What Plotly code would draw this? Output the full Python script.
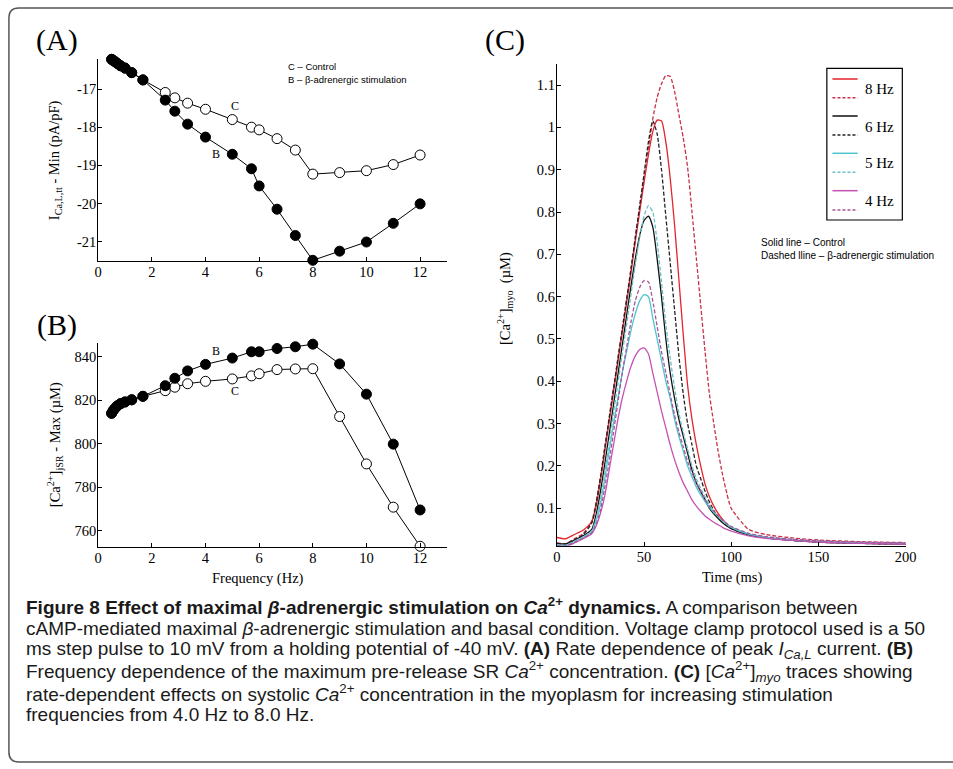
import plotly.graph_objects as go

W, H = 953, 769

# ---------------- data ----------------
freq = [0.5, 0.556, 0.625, 0.714, 0.833, 1.0, 1.25, 1.667, 2.5, 2.857, 3.333, 4.0,
        5.0, 5.714, 6.0, 6.667, 7.35, 8.0, 9.0, 10.0, 11.0, 12.0]

ical_control = [-16.22, -16.25, -16.28, -16.33, -16.39, -16.45, -16.57, -16.76, -17.09, -17.23,
                -17.37, -17.53, -17.80, -18.00, -18.07, -18.30, -18.60, -19.23, -19.19, -19.14,
                -18.98, -18.73]
ical_beta = [-16.22, -16.25, -16.28, -16.33, -16.39, -16.45, -16.57, -16.76, -17.29, -17.58,
             -17.92, -18.26, -18.71, -19.09, -19.54, -20.15, -20.84, -21.49, -21.25, -21.01,
             -20.52, -20.01]

jsr_control = [814.0, 815.2, 816.3, 817.4, 818.4, 819.2, 820.2, 821.8, 824.4, 826.0, 827.6, 828.7,
               829.8, 831.2, 832.2, 834.1, 834.4, 834.5, 812.5, 790.7, 770.8, 752.8]
jsr_beta = [814.0, 815.2, 816.3, 817.4, 818.4, 819.2, 820.2, 821.8, 826.7, 830.1, 833.5, 836.5,
            839.4, 842.3, 842.3, 843.8, 844.6, 845.8, 836.7, 822.8, 799.8, 769.5]

time_ms = [0, 5, 10, 15, 20, 22.5, 25, 27.5, 30, 32.5, 35, 37.5, 40, 42.5, 45, 47.5, 50, 52.5,
           55, 57.5, 60, 62.5, 65, 67.5, 70, 72.5, 75, 77.5, 80, 82.5, 85, 87.5, 90, 92.5, 95,
           97.5, 100, 110, 120, 135, 150, 175, 200]

ca_8hz_control = [0.031, 0.028, 0.038, 0.048, 0.068, 0.105, 0.165, 0.235, 0.305, 0.375, 0.445,
                  0.515, 0.585, 0.655, 0.73, 0.80, 0.87, 0.935, 0.99, 1.017, 1.015, 0.965, 0.88,
                  0.77, 0.64, 0.51, 0.39, 0.31, 0.25, 0.2, 0.157, 0.127, 0.105, 0.088, 0.074,
                  0.063, 0.055, 0.038, 0.031, 0.025, 0.021, 0.018, 0.016]
ca_8hz_beta = [0.018, 0.016, 0.028, 0.04, 0.07, 0.115, 0.175, 0.245, 0.315, 0.385, 0.455, 0.525,
               0.595, 0.665, 0.74, 0.81, 0.88, 0.95, 1.02, 1.07, 1.103, 1.122, 1.12, 1.085, 1.03,
               0.975, 0.905, 0.80, 0.69, 0.58, 0.47, 0.37, 0.3, 0.235, 0.18, 0.135, 0.1, 0.05,
               0.038, 0.03, 0.025, 0.021, 0.019]
ca_6hz_control = [0.017, 0.016, 0.025, 0.035, 0.05, 0.085, 0.14, 0.205, 0.275, 0.345, 0.415,
                  0.485, 0.555, 0.625, 0.69, 0.745, 0.78, 0.79, 0.765, 0.69, 0.6, 0.5, 0.42, 0.36,
                  0.31, 0.27, 0.23, 0.19, 0.16, 0.14, 0.12, 0.1, 0.087, 0.076, 0.066, 0.058,
                  0.052, 0.037, 0.03, 0.024, 0.02, 0.017, 0.015]
ca_6hz_beta = [0.016, 0.015, 0.025, 0.037, 0.065, 0.11, 0.172, 0.242, 0.312, 0.382, 0.452, 0.522,
               0.592, 0.665, 0.74, 0.815, 0.89, 0.965, 1.015, 0.985, 0.9, 0.79, 0.68, 0.57, 0.46,
               0.37, 0.3, 0.25, 0.2, 0.17, 0.14, 0.115, 0.095, 0.08, 0.068, 0.059, 0.052, 0.037,
               0.03, 0.024, 0.02, 0.017, 0.015]
ca_5hz_control = [0.013, 0.012, 0.021, 0.031, 0.045, 0.07, 0.11, 0.17, 0.235, 0.3, 0.36, 0.42,
                  0.47, 0.52, 0.56, 0.59, 0.605, 0.6, 0.55, 0.5, 0.45, 0.4, 0.36, 0.31, 0.27,
                  0.235, 0.2, 0.175, 0.15, 0.132, 0.116, 0.102, 0.09, 0.08, 0.07, 0.062, 0.055,
                  0.039, 0.031, 0.025, 0.021, 0.018, 0.016]
ca_5hz_beta = [0.014, 0.013, 0.022, 0.032, 0.047, 0.075, 0.12, 0.185, 0.255, 0.325, 0.395, 0.465,
               0.535, 0.605, 0.675, 0.74, 0.79, 0.815, 0.8, 0.73, 0.635, 0.535, 0.455, 0.385,
               0.325, 0.28, 0.24, 0.2, 0.17, 0.147, 0.127, 0.108, 0.093, 0.081, 0.071, 0.063,
               0.056, 0.04, 0.032, 0.026, 0.022, 0.019, 0.017]
ca_4hz_control = [0.011, 0.01, 0.018, 0.028, 0.04, 0.058, 0.088, 0.13, 0.19, 0.25, 0.31, 0.36,
                  0.40, 0.435, 0.46, 0.475, 0.479, 0.465, 0.42, 0.375, 0.33, 0.29, 0.25, 0.215,
                  0.185, 0.16, 0.14, 0.12, 0.105, 0.093, 0.082, 0.074, 0.067, 0.061, 0.055, 0.05,
                  0.046, 0.035, 0.029, 0.024, 0.02, 0.017, 0.015]
ca_4hz_beta = [0.012, 0.011, 0.019, 0.029, 0.042, 0.062, 0.095, 0.15, 0.21, 0.28, 0.35, 0.42,
               0.48, 0.54, 0.59, 0.622, 0.638, 0.635, 0.59, 0.53, 0.47, 0.42, 0.37, 0.32, 0.28,
               0.245, 0.21, 0.185, 0.16, 0.14, 0.12, 0.105, 0.093, 0.082, 0.072, 0.064, 0.057,
               0.041, 0.033, 0.027, 0.023, 0.02, 0.018]

freq_ticks = [0, 2, 4, 6, 8, 10, 12]
ical_ticks = [-21, -20, -19, -18, -17]
ical_ticktext = ["-21", "-20", "-19", "-18", "-17"]
jsr_ticks = [760, 780, 800, 820, 840]
ca_ticks = [0.1, 0.2, 0.3, 0.4, 0.5, 0.6, 0.7, 0.8, 0.9, 1.0, 1.1]
ca_ticktext = ["0.1", "0.2", "0.3", "0.4", "0.5", "0.6", "0.7", "0.8", "0.9", "1", "1.1"]
time_ticks = [0, 50, 100, 150, 200]

hz_labels = ["8 Hz", "6 Hz", "5 Hz", "4 Hz"]
c_series = [
    (ca_8hz_control, "#e3242b", "solid"), (ca_8hz_beta, "#c8304a", "dash"),
    (ca_6hz_control, "#111111", "solid"), (ca_6hz_beta, "#222222", "dash"),
    (ca_5hz_control, "#4cc5cf", "solid"), (ca_5hz_beta, "#6cbfc6", "dash"),
    (ca_4hz_control, "#c452b4", "solid"), (ca_4hz_beta, "#a4559c", "dash"),
]

# ---------------- helpers ----------------
def fx(px):
    return px / W

def fy(py):
    return 1 - py / H

SERIF = "Liberation Serif, Times New Roman, serif"
SANS = "Liberation Sans, Arial, sans-serif"

fig = go.Figure()

# Panel A
fig.add_trace(go.Scatter(x=freq, y=ical_control, mode="lines+markers", xaxis="x", yaxis="y",
                         line=dict(color="black", width=1),
                         marker=dict(symbol="circle", size=10, color="white",
                                     line=dict(color="black", width=1)), cliponaxis=False))
fig.add_trace(go.Scatter(x=freq, y=ical_beta, mode="lines+markers", xaxis="x", yaxis="y",
                         line=dict(color="black", width=1),
                         marker=dict(symbol="circle", size=10, color="black",
                                     line=dict(color="black", width=1)), cliponaxis=False))
# Panel B
fig.add_trace(go.Scatter(x=freq, y=jsr_control, mode="lines+markers", xaxis="x2", yaxis="y2",
                         line=dict(color="black", width=1),
                         marker=dict(symbol="circle", size=10, color="white",
                                     line=dict(color="black", width=1)), cliponaxis=False))
fig.add_trace(go.Scatter(x=freq, y=jsr_beta, mode="lines+markers", xaxis="x2", yaxis="y2",
                         line=dict(color="black", width=1),
                         marker=dict(symbol="circle", size=10, color="black",
                                     line=dict(color="black", width=1)), cliponaxis=False))
# Panel C
for vals, col, dash in c_series:
    fig.add_trace(go.Scatter(x=time_ms, y=vals, mode="lines", xaxis="x3", yaxis="y3",
                             line=dict(color=col, width=1.3,
                                       dash=("4px,2px" if dash == "dash" else "solid"),
                                       shape="spline", smoothing=0.6)))

axis_common = dict(showline=True, linecolor="black", linewidth=1, ticks="inside", ticklen=4,
                   tickcolor="black", showgrid=False, zeroline=False, mirror=False,
                   tickfont=dict(family=SERIF, size=14.5, color="black"))
xstand = dict(ticklabelstandoff=-2)
ystand = dict(ticklabelstandoff=-2)

fig.update_layout(
    width=W, height=H, margin=dict(l=0, r=0, t=0, b=0),
    paper_bgcolor="white", plot_bgcolor="white", showlegend=False,
    xaxis=dict(domain=[fx(95.7), fx(450)], range=[0, 13], tickvals=freq_ticks,
               anchor="y", **axis_common, **xstand),
    yaxis=dict(domain=[fy(260.7), fy(59.3)], range=[-21.5, -16.22], tickvals=ical_ticks,
               ticktext=ical_ticktext, anchor="x", **axis_common, **ystand),
    xaxis2=dict(domain=[fx(95.7), fx(450)], range=[0, 13], tickvals=freq_ticks,
                anchor="y2", **axis_common, **xstand),
    yaxis2=dict(domain=[fy(546.7), fy(343.3)], range=[752.6, 846.2], tickvals=jsr_ticks,
                anchor="x2", **axis_common, **ystand),
    xaxis3=dict(domain=[fx(561.7), fx(916)], range=[0, 200], tickvals=time_ticks,
                anchor="y3", **axis_common, **xstand),
    yaxis3=dict(domain=[fy(545.7), fy(64.3)], range=[0.0116, 1.149], tickvals=ca_ticks,
                ticktext=ca_ticktext, anchor="x3", **axis_common, **ystand),
)

ann = []
def text(px, py, s, size=14, family=SERIF, xanchor="center", yanchor="middle", angle=0, color="black"):
    ann.append(dict(x=fx(px), y=fy(py), xref="paper", yref="paper", text=s, showarrow=False,
                    xanchor=xanchor, yanchor=yanchor, textangle=angle,
                    font=dict(family=family, size=size, color=color)))

# panel labels
text(54, 40, "(A)", size=30)
text(54, 325, "(B)", size=30)
text(509, 40, "(C)", size=30)

# axis titles
text(52, 160, "I<sub>Ca,L,tt</sub> - Min (pA/pF)", size=14.5, angle=-90)
text(52, 445, "[Ca<sup>2+</sup>]<sub>jSR</sub> - Max (µM)", size=14.5, angle=-90)
text(258, 578, "Frequency (Hz)", size=14.5)
text(509, 298, "[Ca<sup>2+</sup>]<sub>myo</sub>  (µM)", size=14.5, angle=-90)
text(740, 577, "Time (ms)", size=14.5)

# curve labels
text(235, 105.5, "C", size=12)
text(215, 154.5, "B", size=12)
text(215, 350.5, "B", size=12)
text(235, 390.5, "C", size=12)

# panel A note
text(286.5, 66.5, "C – Control", size=9.5, family=SANS, xanchor="left")
text(286.5, 79.5, "B – β-adrenergic stimulation", size=9.5, family=SANS, xanchor="left")

# panel C note
text(767, 242.5, "Solid line – Control", size=10, family=SANS, xanchor="left")
text(767, 255, "Dashed lline – β-adrenergic stimulation", size=10, family=SANS, xanchor="left")

# legend for C
shapes = []
shapes.append(dict(type="rect", xref="paper", yref="paper", x0=fx(836), x1=fx(912.7),
                   y0=fy(220), y1=fy(68.3), line=dict(color="black", width=1.2)))
leg_y = [(79, 97.7), (116, 135), (153.3, 172.3), (190.7, 210)]
lab_y = [89, 127, 163, 201.5]
for i, lab in enumerate(hz_labels):
    sol = c_series[2 * i]
    dsh = c_series[2 * i + 1]
    shapes.append(dict(type="line", xref="paper", yref="paper", x0=fx(841.7), x1=fx(867.3),
                       y0=fy(leg_y[i][0]), y1=fy(leg_y[i][0]),
                       line=dict(color=sol[1], width=1.5)))
    shapes.append(dict(type="line", xref="paper", yref="paper", x0=fx(841.7), x1=fx(867.3),
                       y0=fy(leg_y[i][1]), y1=fy(leg_y[i][1]),
                       line=dict(color=dsh[1], width=1.5, dash="3px,2px")))
    text(873, lab_y[i], lab, size=15, xanchor="left")

# outer rounded frame
r = 10
x0, y0, x1, y1 = 5, 8, 965, 762
def P(px, py):
    return f"{fx(px)},{fy(py)}"
path = (f"M {P(x0+r,y0)} L {P(x1,y0)} L {P(x1,y1)} L {P(x0+r,y1)} "
        f"Q {P(x0,y1)} {P(x0,y1-r)} L {P(x0,y0+r)} Q {P(x0,y0)} {P(x0+r,y0)} Z")
shapes.append(dict(type="path", xref="paper", yref="paper", path=path,
                   line=dict(color="#555555", width=1.5), fillcolor="rgba(0,0,0,0)"))

# caption
CAP = "Liberation Sans, Arial, sans-serif"
cap_lines = [
    "<b>Figure 8 Effect of maximal <i>β</i>-adrenergic stimulation on <i>Ca</i><sup>2+</sup> dynamics.</b> A comparison between",
    "cAMP-mediated maximal <i>β</i>-adrenergic stimulation and basal condition. Voltage clamp protocol used is a 50",
    "ms step pulse to 10 mV from a holding potential of -40 mV. <b>(A)</b> Rate dependence of peak <i>I</i><sub><i>Ca,L</i></sub> current. <b>(B)</b>",
    "Frequency dependence of the maximum pre-release SR <i>Ca</i><sup>2+</sup> concentration. <b>(C)</b> [<i>Ca</i><sup>2+</sup>]<sub><i>myo</i></sub> traces showing",
    "rate-dependent effects on systolic <i>Ca</i><sup>2+</sup> concentration in the myoplasm for increasing stimulation",
    "frequencies from 4.0 Hz to 8.0 Hz.",
]
cap_y = [606, 628, 650, 671, 692.5, 714]
for s, yy in zip(cap_lines, cap_y):
    text(20, yy, s, size=19, family=CAP, xanchor="left", color="#1a1a1a")

fig.update_layout(annotations=ann, shapes=shapes)
fig.write_html("out.html", config={"displayModeBar": False},
               post_script="document.body.style.margin='0';document.body.style.padding='0';")
